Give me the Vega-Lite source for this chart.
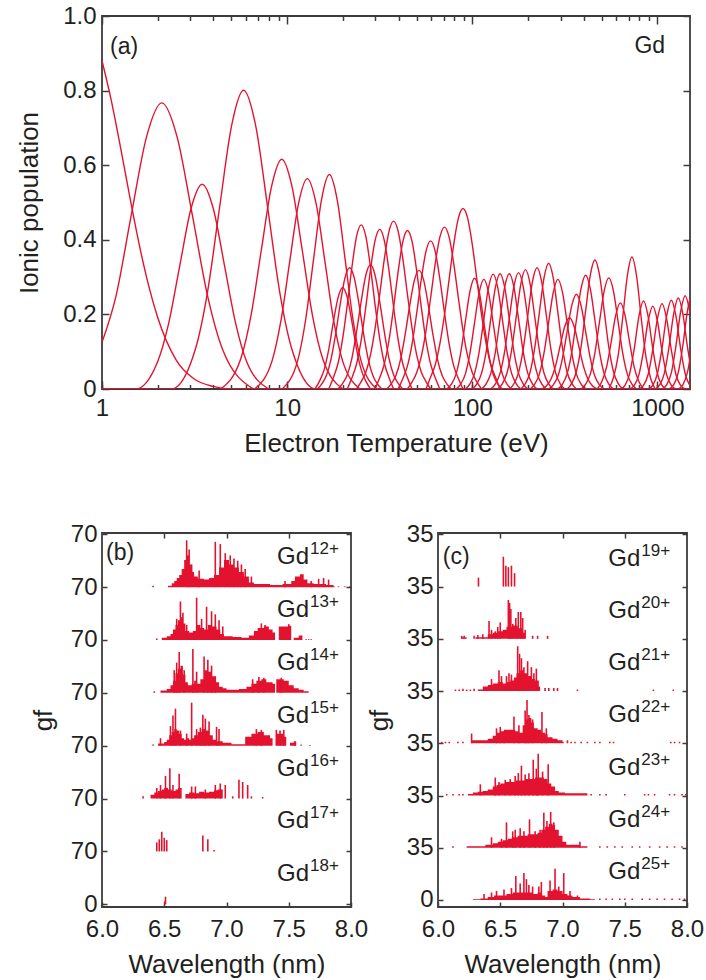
{
"$schema": "https://vega.github.io/schema/vega-lite/v6.json",
"background": "white",
"padding": {"left": 15, "top": 3, "right": 5, "bottom": 5},
"config": {
 "font": "Liberation Sans",
 "view": {"stroke": "#3c3c3c", "strokeWidth": 1.8},
 "axis": {"domain": false, "grid": false, "labelFont": "Liberation Sans", "titleFont": "Liberation Sans", "labelFontSize": 24, "titleFontSize": 26, "titleFontWeight": "normal", "labelColor": "#231f20", "titleColor": "#231f20", "tickColor": "#3c3c3c", "tickWidth": 1.5, "labelFlush": false, "labelOverlap": false}
},
"datasets": {
 "curves": [
  {"i":1,"t":1,"p":0.88},{"i":1,"t":1.122,"p":0.774},{"i":1,"t":1.259,"p":0.648},{"i":1,"t":1.413,"p":0.515},{"i":1,"t":1.585,"p":0.39},{"i":1,"t":1.778,"p":0.281},{"i":1,"t":1.995,"p":0.193},{"i":1,"t":2.512,"p":0.078},{"i":1,"t":3.162,"p":0.026},{"i":1,"t":3.981,"p":0.007},{"i":1,"t":5.012,"p":0},{"i":1,"t":1500,"p":0},
  {"i":2,"t":1,"p":0.125},{"i":2,"t":1.19,"p":0.249},{"i":2,"t":1.439,"p":0.466},{"i":2,"t":1.74,"p":0.676},{"i":2,"t":2.104,"p":0.767},{"i":2,"t":2.544,"p":0.676},{"i":2,"t":3.076,"p":0.466},{"i":2,"t":3.72,"p":0.249},{"i":2,"t":4.498,"p":0.104},{"i":2,"t":6.577,"p":0},
  {"i":3,"t":1,"p":0},{"i":3,"t":1.517,"p":0},{"i":3,"t":2.0,"p":0.074},{"i":3,"t":2.296,"p":0.178},{"i":3,"t":2.636,"p":0.333},{"i":3,"t":3.027,"p":0.484},{"i":3,"t":3.475,"p":0.549},{"i":3,"t":3.99,"p":0.484},{"i":3,"t":4.581,"p":0.333},{"i":3,"t":5.26,"p":0.178},{"i":3,"t":6.04,"p":0.074},{"i":3,"t":7.96,"p":0},
  {"i":4,"t":1,"p":0},{"i":4,"t":2.371,"p":0},{"i":4,"t":3.199,"p":0.108},{"i":4,"t":3.715,"p":0.26},{"i":4,"t":4.315,"p":0.486},{"i":4,"t":5.012,"p":0.706},{"i":4,"t":5.821,"p":0.801},{"i":4,"t":6.761,"p":0.706},{"i":4,"t":7.852,"p":0.486},{"i":4,"t":9.12,"p":0.26},{"i":4,"t":10.59,"p":0.108},{"i":4,"t":14.29,"p":0},{"i":4,"t":1500,"p":0},
  {"i":5,"t":4.375,"p":0},{"i":5,"t":5.636,"p":0.083},{"i":5,"t":6.398,"p":0.2},{"i":5,"t":7.261,"p":0.374},{"i":5,"t":8.241,"p":0.543},{"i":5,"t":9.354,"p":0.616},{"i":5,"t":10.62,"p":0.543},{"i":5,"t":12.05,"p":0.374},{"i":5,"t":13.67,"p":0.2},{"i":5,"t":15.52,"p":0.083},{"i":5,"t":20.0,"p":0},
  {"i":6,"t":6.668,"p":0},{"i":6,"t":8.299,"p":0.076},{"i":6,"t":9.258,"p":0.183},{"i":6,"t":10.33,"p":0.342},{"i":6,"t":11.52,"p":0.497},{"i":6,"t":12.85,"p":0.564},{"i":6,"t":14.34,"p":0.497},{"i":6,"t":16.0,"p":0.342},{"i":6,"t":17.84,"p":0.183},{"i":6,"t":19.91,"p":0.076},{"i":6,"t":24.77,"p":0},
  {"i":7,"t":9.397,"p":0},{"i":7,"t":11.43,"p":0.078},{"i":7,"t":12.6,"p":0.187},{"i":7,"t":13.9,"p":0.349},{"i":7,"t":15.33,"p":0.507},{"i":7,"t":16.91,"p":0.575},{"i":7,"t":18.64,"p":0.507},{"i":7,"t":20.56,"p":0.349},{"i":7,"t":22.67,"p":0.187},{"i":7,"t":25.0,"p":0.078},{"i":7,"t":30.41,"p":0},
  {"i":8,"t":14.13,"p":0},{"i":8,"t":14.96,"p":0.021},{"i":8,"t":15.85,"p":0.052},{"i":8,"t":16.79,"p":0.107},{"i":8,"t":17.78,"p":0.18},{"i":8,"t":18.84,"p":0.245},{"i":8,"t":19.95,"p":0.272},{"i":8,"t":21.13,"p":0.245},{"i":8,"t":22.39,"p":0.18},{"i":8,"t":23.71,"p":0.107},{"i":8,"t":25.12,"p":0.052},{"i":8,"t":26.61,"p":0.021},{"i":8,"t":28.18,"p":0},
  {"i":9,"t":14.54,"p":0},{"i":9,"t":15.4,"p":0.014},{"i":9,"t":16.31,"p":0.037},{"i":9,"t":17.28,"p":0.081},{"i":9,"t":18.3,"p":0.149},{"i":9,"t":19.39,"p":0.23},{"i":9,"t":20.53,"p":0.298},{"i":9,"t":21.75,"p":0.325},{"i":9,"t":23.04,"p":0.298},{"i":9,"t":24.4,"p":0.23},{"i":9,"t":25.85,"p":0.149},{"i":9,"t":27.39,"p":0.081},{"i":9,"t":29.0,"p":0.037},{"i":9,"t":30.72,"p":0.014},{"i":9,"t":32.54,"p":0},
  {"i":10,"t":16.79,"p":0},{"i":10,"t":17.78,"p":0.031},{"i":10,"t":18.84,"p":0.069},{"i":10,"t":19.95,"p":0.135},{"i":10,"t":21.13,"p":0.226},{"i":10,"t":22.39,"p":0.327},{"i":10,"t":23.71,"p":0.409},{"i":10,"t":25.12,"p":0.44},{"i":10,"t":26.61,"p":0.409},{"i":10,"t":28.18,"p":0.327},{"i":10,"t":29.85,"p":0.226},{"i":10,"t":31.62,"p":0.135},{"i":10,"t":33.5,"p":0.069},{"i":10,"t":35.48,"p":0.031},{"i":10,"t":37.58,"p":0},
  {"i":11,"t":18.84,"p":0},{"i":11,"t":19.95,"p":0.015},{"i":11,"t":21.13,"p":0.038},{"i":11,"t":22.39,"p":0.083},{"i":11,"t":23.71,"p":0.153},{"i":11,"t":25.12,"p":0.235},{"i":11,"t":26.61,"p":0.305},{"i":11,"t":28.18,"p":0.333},{"i":11,"t":29.85,"p":0.305},{"i":11,"t":31.62,"p":0.235},{"i":11,"t":33.5,"p":0.153},{"i":11,"t":35.48,"p":0.083},{"i":11,"t":37.58,"p":0.038},{"i":11,"t":39.81,"p":0.015},{"i":11,"t":42.17,"p":0},
  {"i":12,"t":21.13,"p":0},{"i":12,"t":22.39,"p":0.03},{"i":12,"t":23.71,"p":0.067},{"i":12,"t":25.12,"p":0.131},{"i":12,"t":26.61,"p":0.22},{"i":12,"t":28.18,"p":0.318},{"i":12,"t":29.85,"p":0.398},{"i":12,"t":31.62,"p":0.428},{"i":12,"t":33.5,"p":0.398},{"i":12,"t":35.48,"p":0.318},{"i":12,"t":37.58,"p":0.22},{"i":12,"t":39.81,"p":0.131},{"i":12,"t":42.17,"p":0.067},{"i":12,"t":44.67,"p":0.03},{"i":12,"t":47.32,"p":0},
  {"i":13,"t":23.71,"p":0},{"i":13,"t":25.12,"p":0.02},{"i":13,"t":26.61,"p":0.045},{"i":13,"t":28.18,"p":0.091},{"i":13,"t":29.85,"p":0.162},{"i":13,"t":31.62,"p":0.253},{"i":13,"t":33.5,"p":0.349},{"i":13,"t":35.48,"p":0.422},{"i":13,"t":37.58,"p":0.45},{"i":13,"t":39.81,"p":0.422},{"i":13,"t":42.17,"p":0.349},{"i":13,"t":44.67,"p":0.253},{"i":13,"t":47.32,"p":0.162},{"i":13,"t":50.12,"p":0.091},{"i":13,"t":53.09,"p":0.045},{"i":13,"t":56.23,"p":0.02},{"i":13,"t":59.57,"p":0},
  {"i":14,"t":29.85,"p":0},{"i":14,"t":31.62,"p":0.03},{"i":14,"t":33.5,"p":0.067},{"i":14,"t":35.48,"p":0.13},{"i":14,"t":37.58,"p":0.218},{"i":14,"t":39.81,"p":0.316},{"i":14,"t":42.17,"p":0.395},{"i":14,"t":44.67,"p":0.425},{"i":14,"t":47.32,"p":0.395},{"i":14,"t":50.12,"p":0.316},{"i":14,"t":53.09,"p":0.218},{"i":14,"t":56.23,"p":0.13},{"i":14,"t":59.57,"p":0.067},{"i":14,"t":63.1,"p":0.03},{"i":14,"t":66.83,"p":0},
  {"i":15,"t":34.48,"p":0},{"i":15,"t":36.52,"p":0.014},{"i":15,"t":38.68,"p":0.036},{"i":15,"t":40.97,"p":0.079},{"i":15,"t":43.4,"p":0.146},{"i":15,"t":45.97,"p":0.225},{"i":15,"t":48.7,"p":0.292},{"i":15,"t":51.58,"p":0.318},{"i":15,"t":54.64,"p":0.292},{"i":15,"t":57.87,"p":0.225},{"i":15,"t":61.31,"p":0.146},{"i":15,"t":64.94,"p":0.079},{"i":15,"t":68.78,"p":0.036},{"i":15,"t":72.86,"p":0.014},{"i":15,"t":77.18,"p":0},
  {"i":16,"t":39.81,"p":0},{"i":16,"t":42.17,"p":0.028},{"i":16,"t":44.67,"p":0.062},{"i":16,"t":47.32,"p":0.121},{"i":16,"t":50.12,"p":0.204},{"i":16,"t":53.09,"p":0.295},{"i":16,"t":56.23,"p":0.369},{"i":16,"t":59.57,"p":0.397},{"i":16,"t":63.1,"p":0.369},{"i":16,"t":66.83,"p":0.295},{"i":16,"t":70.79,"p":0.204},{"i":16,"t":74.99,"p":0.121},{"i":16,"t":79.43,"p":0.062},{"i":16,"t":84.14,"p":0.028},{"i":16,"t":89.13,"p":0},
  {"i":17,"t":44.67,"p":0},{"i":17,"t":47.32,"p":0.019},{"i":17,"t":50.12,"p":0.044},{"i":17,"t":53.09,"p":0.088},{"i":17,"t":56.23,"p":0.156},{"i":17,"t":59.57,"p":0.244},{"i":17,"t":63.1,"p":0.336},{"i":17,"t":66.83,"p":0.407},{"i":17,"t":70.79,"p":0.434},{"i":17,"t":74.99,"p":0.407},{"i":17,"t":79.43,"p":0.336},{"i":17,"t":84.14,"p":0.244},{"i":17,"t":89.13,"p":0.156},{"i":17,"t":94.41,"p":0.088},{"i":17,"t":100,"p":0.044},{"i":17,"t":105.9,"p":0.019},{"i":17,"t":112.2,"p":0},
  {"i":18,"t":56.23,"p":0},{"i":18,"t":59.57,"p":0.032},{"i":18,"t":63.1,"p":0.065},{"i":18,"t":66.83,"p":0.121},{"i":18,"t":70.79,"p":0.199},{"i":18,"t":74.99,"p":0.294},{"i":18,"t":79.43,"p":0.388},{"i":18,"t":84.14,"p":0.458},{"i":18,"t":89.13,"p":0.484},{"i":18,"t":94.41,"p":0.458},{"i":18,"t":100,"p":0.388},{"i":18,"t":105.9,"p":0.294},{"i":18,"t":112.2,"p":0.199},{"i":18,"t":118.9,"p":0.121},{"i":18,"t":125.9,"p":0.065},{"i":18,"t":133.4,"p":0.032},{"i":18,"t":141.3,"p":0},
  {"i":19,"t":72.86,"p":0},{"i":19,"t":77.18,"p":0.013},{"i":19,"t":81.75,"p":0.04},{"i":19,"t":86.6,"p":0.097},{"i":19,"t":91.73,"p":0.18},{"i":19,"t":97.17,"p":0.262},{"i":19,"t":102.9,"p":0.297},{"i":19,"t":109.0,"p":0.262},{"i":19,"t":115.5,"p":0.18},{"i":19,"t":122.4,"p":0.097},{"i":19,"t":129.6,"p":0.04},{"i":19,"t":137.3,"p":0.013},{"i":19,"t":145.4,"p":0},
  {"i":20,"t":81.75,"p":0},{"i":20,"t":86.6,"p":0.013},{"i":20,"t":91.73,"p":0.04},{"i":20,"t":97.17,"p":0.096},{"i":20,"t":102.9,"p":0.178},{"i":20,"t":109.0,"p":0.259},{"i":20,"t":115.5,"p":0.294},{"i":20,"t":122.4,"p":0.259},{"i":20,"t":129.6,"p":0.178},{"i":20,"t":137.3,"p":0.096},{"i":20,"t":145.4,"p":0.04},{"i":20,"t":154.0,"p":0.013},{"i":20,"t":163.1,"p":0},
  {"i":21,"t":91.73,"p":0},{"i":21,"t":97.17,"p":0.014},{"i":21,"t":102.9,"p":0.042},{"i":21,"t":109.0,"p":0.1},{"i":21,"t":115.5,"p":0.187},{"i":21,"t":122.4,"p":0.272},{"i":21,"t":129.6,"p":0.308},{"i":21,"t":137.3,"p":0.272},{"i":21,"t":145.4,"p":0.187},{"i":21,"t":154.0,"p":0.1},{"i":21,"t":163.1,"p":0.042},{"i":21,"t":172.8,"p":0.014},{"i":21,"t":183.0,"p":0},
  {"i":22,"t":100,"p":0},{"i":22,"t":105.9,"p":0.014},{"i":22,"t":112.2,"p":0.042},{"i":22,"t":118.9,"p":0.1},{"i":22,"t":125.9,"p":0.188},{"i":22,"t":133.4,"p":0.273},{"i":22,"t":141.3,"p":0.309},{"i":22,"t":149.6,"p":0.273},{"i":22,"t":158.5,"p":0.188},{"i":22,"t":167.9,"p":0.1},{"i":22,"t":177.8,"p":0.042},{"i":22,"t":188.4,"p":0.014},{"i":22,"t":199.5,"p":0},
  {"i":23,"t":112.2,"p":0},{"i":23,"t":118.9,"p":0.014},{"i":23,"t":125.9,"p":0.042},{"i":23,"t":133.4,"p":0.1},{"i":23,"t":141.3,"p":0.188},{"i":23,"t":149.6,"p":0.273},{"i":23,"t":158.5,"p":0.309},{"i":23,"t":167.9,"p":0.273},{"i":23,"t":177.8,"p":0.188},{"i":23,"t":188.4,"p":0.1},{"i":23,"t":199.5,"p":0.042},{"i":23,"t":211.3,"p":0.014},{"i":23,"t":223.9,"p":0},
  {"i":24,"t":125.9,"p":0},{"i":24,"t":133.4,"p":0.014},{"i":24,"t":141.3,"p":0.042},{"i":24,"t":149.6,"p":0.101},{"i":24,"t":158.5,"p":0.189},{"i":24,"t":167.9,"p":0.275},{"i":24,"t":177.8,"p":0.312},{"i":24,"t":188.4,"p":0.275},{"i":24,"t":199.5,"p":0.189},{"i":24,"t":211.3,"p":0.101},{"i":24,"t":223.9,"p":0.042},{"i":24,"t":237.1,"p":0.014},{"i":24,"t":251.2,"p":0},
  {"i":25,"t":137.3,"p":0},{"i":25,"t":145.4,"p":0.014},{"i":25,"t":154.0,"p":0.043},{"i":25,"t":163.1,"p":0.104},{"i":25,"t":172.8,"p":0.194},{"i":25,"t":183.0,"p":0.282},{"i":25,"t":193.9,"p":0.32},{"i":25,"t":205.3,"p":0.282},{"i":25,"t":217.5,"p":0.194},{"i":25,"t":230.4,"p":0.104},{"i":25,"t":244.0,"p":0.043},{"i":25,"t":258.5,"p":0.014},{"i":25,"t":273.9,"p":0},
  {"i":26,"t":158.5,"p":0},{"i":26,"t":167.9,"p":0.014},{"i":26,"t":177.8,"p":0.044},{"i":26,"t":188.4,"p":0.106},{"i":26,"t":199.5,"p":0.197},{"i":26,"t":211.3,"p":0.287},{"i":26,"t":223.9,"p":0.325},{"i":26,"t":237.1,"p":0.287},{"i":26,"t":251.2,"p":0.197},{"i":26,"t":266.1,"p":0.106},{"i":26,"t":281.8,"p":0.044},{"i":26,"t":298.5,"p":0.014},{"i":26,"t":316.2,"p":0},
  {"i":27,"t":183.0,"p":0},{"i":27,"t":193.9,"p":0.015},{"i":27,"t":205.3,"p":0.045},{"i":27,"t":217.5,"p":0.11},{"i":27,"t":230.4,"p":0.205},{"i":27,"t":244.0,"p":0.297},{"i":27,"t":258.5,"p":0.337},{"i":27,"t":273.9,"p":0.297},{"i":27,"t":290.0,"p":0.205},{"i":27,"t":307.2,"p":0.11},{"i":27,"t":325.4,"p":0.045},{"i":27,"t":344.8,"p":0.015},{"i":27,"t":365.2,"p":0},
  {"i":28,"t":205.3,"p":0},{"i":28,"t":217.5,"p":0.013},{"i":28,"t":230.4,"p":0.04},{"i":28,"t":244.0,"p":0.096},{"i":28,"t":258.5,"p":0.178},{"i":28,"t":273.9,"p":0.259},{"i":28,"t":290.0,"p":0.294},{"i":28,"t":307.2,"p":0.259},{"i":28,"t":325.4,"p":0.178},{"i":28,"t":344.8,"p":0.096},{"i":28,"t":365.2,"p":0.04},{"i":28,"t":386.8,"p":0.013},{"i":28,"t":409.7,"p":0},
  {"i":29,"t":237.1,"p":0},{"i":29,"t":251.2,"p":0.008},{"i":29,"t":266.1,"p":0.026},{"i":29,"t":281.8,"p":0.062},{"i":29,"t":298.5,"p":0.116},{"i":29,"t":316.2,"p":0.168},{"i":29,"t":335.0,"p":0.191},{"i":29,"t":354.8,"p":0.168},{"i":29,"t":375.8,"p":0.116},{"i":29,"t":398.1,"p":0.062},{"i":29,"t":421.7,"p":0.026},{"i":29,"t":446.7,"p":0.008},{"i":29,"t":473.2,"p":0},
  {"i":30,"t":258.5,"p":0},{"i":30,"t":273.9,"p":0.011},{"i":30,"t":290.0,"p":0.034},{"i":30,"t":307.2,"p":0.083},{"i":30,"t":325.4,"p":0.154},{"i":30,"t":344.8,"p":0.224},{"i":30,"t":365.2,"p":0.254},{"i":30,"t":386.8,"p":0.224},{"i":30,"t":409.7,"p":0.154},{"i":30,"t":434.0,"p":0.083},{"i":30,"t":459.7,"p":0.034},{"i":30,"t":487.0,"p":0.011},{"i":30,"t":515.8,"p":0},
  {"i":31,"t":290.0,"p":0},{"i":31,"t":307.2,"p":0.013},{"i":31,"t":325.4,"p":0.041},{"i":31,"t":344.8,"p":0.099},{"i":31,"t":365.2,"p":0.185},{"i":31,"t":386.8,"p":0.269},{"i":31,"t":409.7,"p":0.305},{"i":31,"t":434.0,"p":0.269},{"i":31,"t":459.7,"p":0.185},{"i":31,"t":487.0,"p":0.099},{"i":31,"t":515.8,"p":0.041},{"i":31,"t":546.4,"p":0.013},{"i":31,"t":578.7,"p":0},
  {"i":32,"t":325.4,"p":0},{"i":32,"t":344.8,"p":0.015},{"i":32,"t":365.2,"p":0.047},{"i":32,"t":386.8,"p":0.112},{"i":32,"t":409.7,"p":0.21},{"i":32,"t":434.0,"p":0.305},{"i":32,"t":459.7,"p":0.346},{"i":32,"t":487.0,"p":0.305},{"i":32,"t":515.8,"p":0.21},{"i":32,"t":546.4,"p":0.112},{"i":32,"t":578.7,"p":0.047},{"i":32,"t":613.1,"p":0.015},{"i":32,"t":649.4,"p":0},
  {"i":33,"t":386.8,"p":0},{"i":33,"t":409.7,"p":0.013},{"i":33,"t":434.0,"p":0.04},{"i":33,"t":459.7,"p":0.097},{"i":33,"t":487.0,"p":0.181},{"i":33,"t":515.8,"p":0.263},{"i":33,"t":546.4,"p":0.298},{"i":33,"t":578.7,"p":0.263},{"i":33,"t":613.1,"p":0.181},{"i":33,"t":649.4,"p":0.097},{"i":33,"t":687.8,"p":0.04},{"i":33,"t":728.6,"p":0.013},{"i":33,"t":771.8,"p":0},
  {"i":34,"t":473.2,"p":0},{"i":34,"t":501.2,"p":0.02},{"i":34,"t":530.9,"p":0.058},{"i":34,"t":562.3,"p":0.125},{"i":34,"t":595.7,"p":0.198},{"i":34,"t":631.0,"p":0.231},{"i":34,"t":668.3,"p":0.198},{"i":34,"t":707.9,"p":0.125},{"i":34,"t":749.9,"p":0.058},{"i":34,"t":794.3,"p":0.02},{"i":34,"t":841.4,"p":0},
  {"i":35,"t":546.4,"p":0},{"i":35,"t":578.7,"p":0.03},{"i":35,"t":613.1,"p":0.088},{"i":35,"t":649.4,"p":0.191},{"i":35,"t":687.8,"p":0.303},{"i":35,"t":728.6,"p":0.354},{"i":35,"t":771.8,"p":0.303},{"i":35,"t":817.5,"p":0.191},{"i":35,"t":866.0,"p":0.088},{"i":35,"t":917.3,"p":0.03},{"i":35,"t":971.7,"p":0},
  {"i":36,"t":631.0,"p":0},{"i":36,"t":668.3,"p":0.01},{"i":36,"t":707.9,"p":0.041},{"i":36,"t":749.9,"p":0.108},{"i":36,"t":794.3,"p":0.194},{"i":36,"t":841.4,"p":0.236},{"i":36,"t":891.3,"p":0.194},{"i":36,"t":944.1,"p":0.108},{"i":36,"t":1000,"p":0.041},{"i":36,"t":1059,"p":0.01},{"i":36,"t":1122,"p":0},
  {"i":37,"t":707.9,"p":0},{"i":37,"t":749.9,"p":0.01},{"i":37,"t":794.3,"p":0.038},{"i":37,"t":841.4,"p":0.102},{"i":37,"t":891.3,"p":0.183},{"i":37,"t":944.1,"p":0.222},{"i":37,"t":1000,"p":0.183},{"i":37,"t":1059,"p":0.102},{"i":37,"t":1122,"p":0.038},{"i":37,"t":1189,"p":0.01},{"i":37,"t":1259,"p":0},
  {"i":38,"t":794.3,"p":0},{"i":38,"t":841.4,"p":0.01},{"i":38,"t":891.3,"p":0.039},{"i":38,"t":944.1,"p":0.105},{"i":38,"t":1000,"p":0.188},{"i":38,"t":1059,"p":0.229},{"i":38,"t":1122,"p":0.188},{"i":38,"t":1189,"p":0.105},{"i":38,"t":1259,"p":0.039},{"i":38,"t":1334,"p":0.01},{"i":38,"t":1413,"p":0},
  {"i":39,"t":891.3,"p":0},{"i":39,"t":944.1,"p":0.01},{"i":39,"t":1000,"p":0.041},{"i":39,"t":1059,"p":0.109},{"i":39,"t":1122,"p":0.196},{"i":39,"t":1189,"p":0.238},{"i":39,"t":1259,"p":0.196},{"i":39,"t":1334,"p":0.109},{"i":39,"t":1413,"p":0.041},{"i":39,"t":1496,"p":0.01},{"i":39,"t":1585,"p":0},
  {"i":40,"t":971.7,"p":0},{"i":40,"t":1029,"p":0.011},{"i":40,"t":1090,"p":0.042},{"i":40,"t":1155,"p":0.112},{"i":40,"t":1224,"p":0.201},{"i":40,"t":1296,"p":0.244},{"i":40,"t":1373,"p":0.201},{"i":40,"t":1454,"p":0.112},{"i":40,"t":1540,"p":0.042},{"i":40,"t":1631,"p":0.011},{"i":40,"t":1728,"p":0},
  {"i":41,"t":1059,"p":0},{"i":41,"t":1122,"p":0.011},{"i":41,"t":1189,"p":0.043},{"i":41,"t":1259,"p":0.115},{"i":41,"t":1334,"p":0.206},{"i":41,"t":1413,"p":0.25},{"i":41,"t":1496,"p":0.206},{"i":41,"t":1585,"p":0.115},{"i":41,"t":1679,"p":0.043},{"i":41,"t":1778,"p":0.011},{"i":41,"t":1884,"p":0},
  {"i":42,"t":1155,"p":0},{"i":42,"t":1224,"p":0.011},{"i":42,"t":1296,"p":0.044},{"i":42,"t":1373,"p":0.117},{"i":42,"t":1454,"p":0.21},{"i":42,"t":1540,"p":0.255},{"i":42,"t":1631,"p":0.21},{"i":42,"t":1728,"p":0.117},
  {"i":43,"t":1296,"p":0},{"i":43,"t":1373,"p":0.011},{"i":43,"t":1454,"p":0.045},{"i":43,"t":1540,"p":0.119},{"i":43,"t":1631,"p":0.214},{"i":43,"t":1728,"p":0.26},{"i":43,"t":1830,"p":0.214}
 ],
 "envB": [
  {"g":"12","w":6.53,"y":422,"b":420},{"g":"12","w":6.56,"y":425,"b":420},{"g":"12","w":6.58,"y":428,"b":420},{"g":"12","w":6.6,"y":432,"b":420},{"g":"12","w":6.62,"y":436,"b":420},{"g":"12","w":6.64,"y":444,"b":420},{"g":"12","w":6.66,"y":456,"b":420},{"g":"12","w":6.68,"y":462,"b":420},{"g":"12","w":6.7,"y":450,"b":420},{"g":"12","w":6.72,"y":440,"b":420},{"g":"12","w":6.74,"y":434,"b":420},{"g":"12","w":6.77,"y":431,"b":420},{"g":"12","w":6.82,"y":430,"b":420},{"g":"12","w":6.86,"y":432,"b":420},{"g":"12","w":6.9,"y":436,"b":420},{"g":"12","w":6.94,"y":446,"b":420},{"g":"12","w":6.98,"y":456,"b":420},{"g":"12","w":7.02,"y":450,"b":420},{"g":"12","w":7.06,"y":446,"b":420},{"g":"12","w":7.1,"y":440,"b":420},{"g":"12","w":7.14,"y":434,"b":420},{"g":"12","w":7.18,"y":426,"b":420},{"g":"12","w":7.22,"y":424,"b":420},{"g":"12","w":7.35,"y":423,"b":420},{"g":"12","w":7.45,"y":424,"b":420},{"g":"12","w":7.52,"y":428,"b":420},{"g":"12","w":7.55,"y":434,"b":420},{"g":"12","w":7.59,"y":437,"b":420},{"g":"12","w":7.62,"y":430,"b":420},{"g":"12","w":7.65,"y":425,"b":420},{"g":"12","w":7.7,"y":424,"b":420},{"g":"12","w":7.8,"y":423,"b":420},{"g":"12","w":7.86,"y":421,"b":420},{"g":"12","w":7.87,"y":420,"b":420},
  {"g":"13","w":6.48,"y":353,"b":350},{"g":"13","w":6.52,"y":355,"b":350},{"g":"13","w":6.55,"y":358,"b":350},{"g":"13","w":6.57,"y":364,"b":350},{"g":"13","w":6.59,"y":370,"b":350},{"g":"13","w":6.61,"y":376,"b":350},{"g":"13","w":6.63,"y":380,"b":350},{"g":"13","w":6.65,"y":372,"b":350},{"g":"13","w":6.67,"y":362,"b":350},{"g":"13","w":6.7,"y":360,"b":350},{"g":"13","w":6.73,"y":362,"b":350},{"g":"13","w":6.76,"y":370,"b":350},{"g":"13","w":6.79,"y":366,"b":350},{"g":"13","w":6.82,"y":364,"b":350},{"g":"13","w":6.85,"y":370,"b":350},{"g":"13","w":6.88,"y":368,"b":350},{"g":"13","w":6.92,"y":364,"b":350},{"g":"13","w":6.95,"y":358,"b":350},{"g":"13","w":6.98,"y":355,"b":350},{"g":"13","w":7.05,"y":354,"b":350},{"g":"13","w":7.12,"y":353,"b":350},{"g":"13","w":7.18,"y":356,"b":350},{"g":"13","w":7.22,"y":362,"b":350},{"g":"13","w":7.25,"y":366,"b":350},{"g":"13","w":7.3,"y":368,"b":350},{"g":"13","w":7.34,"y":364,"b":350},{"g":"13","w":7.37,"y":360,"b":350},{"g":"13","w":7.39,"y":350,"b":350},{"g":"13","w":7.42,"y":368,"b":350},{"g":"13","w":7.5,"y":369,"b":350},{"g":"13","w":7.52,"y":350,"b":350},{"g":"13","w":7.54,"y":353,"b":350},{"g":"13","w":7.58,"y":356,"b":350},{"g":"13","w":7.61,"y":350,"b":350},
  {"g":"14","w":6.47,"y":283,"b":280},{"g":"14","w":6.52,"y":285,"b":280},{"g":"14","w":6.55,"y":290,"b":280},{"g":"14","w":6.57,"y":296,"b":280},{"g":"14","w":6.59,"y":306,"b":280},{"g":"14","w":6.61,"y":312,"b":280},{"g":"14","w":6.63,"y":316,"b":280},{"g":"14","w":6.65,"y":304,"b":280},{"g":"14","w":6.67,"y":294,"b":280},{"g":"14","w":6.69,"y":290,"b":280},{"g":"14","w":6.72,"y":292,"b":280},{"g":"14","w":6.74,"y":296,"b":280},{"g":"14","w":6.76,"y":292,"b":280},{"g":"14","w":6.79,"y":298,"b":280},{"g":"14","w":6.82,"y":310,"b":280},{"g":"14","w":6.85,"y":308,"b":280},{"g":"14","w":6.88,"y":302,"b":280},{"g":"14","w":6.91,"y":294,"b":280},{"g":"14","w":6.94,"y":288,"b":280},{"g":"14","w":6.97,"y":286,"b":280},{"g":"14","w":7.0,"y":284,"b":280},{"g":"14","w":7.1,"y":285,"b":280},{"g":"14","w":7.16,"y":288,"b":280},{"g":"14","w":7.2,"y":292,"b":280},{"g":"14","w":7.24,"y":296,"b":280},{"g":"14","w":7.28,"y":298,"b":280},{"g":"14","w":7.32,"y":294,"b":280},{"g":"14","w":7.37,"y":292,"b":280},{"g":"14","w":7.39,"y":280,"b":280},{"g":"14","w":7.4,"y":298,"b":280},{"g":"14","w":7.46,"y":296,"b":280},{"g":"14","w":7.5,"y":290,"b":280},{"g":"14","w":7.54,"y":286,"b":280},{"g":"14","w":7.58,"y":284,"b":280},{"g":"14","w":7.62,"y":282,"b":280},{"g":"14","w":7.66,"y":280,"b":280},
  {"g":"15","w":6.45,"y":213,"b":210},{"g":"15","w":6.5,"y":215,"b":210},{"g":"15","w":6.52,"y":218,"b":210},{"g":"15","w":6.54,"y":224,"b":210},{"g":"15","w":6.56,"y":228,"b":210},{"g":"15","w":6.58,"y":232,"b":210},{"g":"15","w":6.6,"y":230,"b":210},{"g":"15","w":6.62,"y":226,"b":210},{"g":"15","w":6.64,"y":220,"b":210},{"g":"15","w":6.66,"y":218,"b":210},{"g":"15","w":6.68,"y":220,"b":210},{"g":"15","w":6.7,"y":218,"b":210},{"g":"15","w":6.72,"y":220,"b":210},{"g":"15","w":6.74,"y":224,"b":210},{"g":"15","w":6.77,"y":228,"b":210},{"g":"15","w":6.8,"y":232,"b":210},{"g":"15","w":6.83,"y":230,"b":210},{"g":"15","w":6.86,"y":224,"b":210},{"g":"15","w":6.89,"y":218,"b":210},{"g":"15","w":6.92,"y":216,"b":210},{"g":"15","w":6.97,"y":214,"b":210},{"g":"15","w":7.04,"y":212,"b":210},{"g":"15","w":7.1,"y":212,"b":210},{"g":"15","w":7.15,"y":222,"b":210},{"g":"15","w":7.2,"y":226,"b":210},{"g":"15","w":7.25,"y":228,"b":210},{"g":"15","w":7.3,"y":224,"b":210},{"g":"15","w":7.35,"y":220,"b":210},{"g":"15","w":7.37,"y":210,"b":210},{"g":"15","w":7.4,"y":226,"b":210},{"g":"15","w":7.46,"y":222,"b":210},{"g":"15","w":7.48,"y":210,"b":210},{"g":"15","w":7.51,"y":214,"b":210},{"g":"15","w":7.54,"y":216,"b":210},{"g":"15","w":7.56,"y":210,"b":210},
  {"g":"16","w":6.39,"y":145,"b":140},{"g":"16","w":6.42,"y":148,"b":140},{"g":"16","w":6.45,"y":150,"b":140},{"g":"16","w":6.48,"y":152,"b":140},{"g":"16","w":6.5,"y":154,"b":140},{"g":"16","w":6.53,"y":152,"b":140},{"g":"16","w":6.56,"y":150,"b":140},{"g":"16","w":6.59,"y":152,"b":140},{"g":"16","w":6.61,"y":154,"b":140},{"g":"16","w":6.64,"y":140,"b":140},{"g":"16","w":6.67,"y":146,"b":140},{"g":"16","w":6.7,"y":148,"b":140},{"g":"16","w":6.74,"y":147,"b":140},{"g":"16","w":6.78,"y":149,"b":140},{"g":"16","w":6.82,"y":148,"b":140},{"g":"16","w":6.86,"y":149,"b":140},{"g":"16","w":6.9,"y":151,"b":140},{"g":"16","w":6.93,"y":152,"b":140},{"g":"16","w":6.97,"y":140,"b":140}
 ],
 "spkB": [
  {"w":6.41,"y":422,"b":420},{"w":6.68,"y":482,"b":420},{"w":6.7,"y":470,"b":420},{"w":6.72,"y":450,"b":420},{"w":6.78,"y":442,"b":420},{"w":6.91,"y":480,"b":420},{"w":6.95,"y":477,"b":420},{"w":6.99,"y":465,"b":420},{"w":7.03,"y":462,"b":420},{"w":7.06,"y":458,"b":420},{"w":7.09,"y":455,"b":420},{"w":7.12,"y":450,"b":420},{"w":7.15,"y":444,"b":420},{"w":7.2,"y":434,"b":420},{"w":7.47,"y":428,"b":420},{"w":7.68,"y":428,"b":420},{"w":7.74,"y":431,"b":420},{"w":7.78,"y":432,"b":420},{"w":7.82,"y":430,"b":420},{"w":7.9,"y":421,"b":420},{"w":7.95,"y":421,"b":420},{"w":7.99,"y":421,"b":420},
  {"w":6.44,"y":352,"b":350},{"w":6.6,"y":378,"b":350},{"w":6.63,"y":401,"b":350},{"w":6.65,"y":386,"b":350},{"w":6.68,"y":370,"b":350},{"w":6.76,"y":406,"b":350},{"w":6.8,"y":378,"b":350},{"w":6.84,"y":394,"b":350},{"w":6.88,"y":388,"b":350},{"w":6.91,"y":384,"b":350},{"w":6.94,"y":376,"b":350},{"w":6.97,"y":368,"b":350},{"w":7.28,"y":372,"b":350},{"w":7.31,"y":370,"b":350},{"w":7.5,"y":371,"b":350},{"w":7.64,"y":351,"b":350},{"w":7.66,"y":351,"b":350},{"w":7.68,"y":351,"b":350},
  {"w":6.42,"y":282,"b":280},{"w":6.58,"y":310,"b":280},{"w":6.6,"y":320,"b":280},{"w":6.62,"y":334,"b":280},{"w":6.66,"y":310,"b":280},{"w":6.73,"y":338,"b":280},{"w":6.76,"y":308,"b":280},{"w":6.82,"y":328,"b":280},{"w":6.85,"y":324,"b":280},{"w":6.88,"y":316,"b":280},{"w":6.91,"y":302,"b":280},{"w":7.21,"y":298,"b":280},{"w":7.26,"y":301,"b":280},{"w":7.3,"y":300,"b":280},{"w":7.44,"y":300,"b":280},
  {"w":6.41,"y":211.5,"b":210},{"w":6.47,"y":220,"b":210},{"w":6.55,"y":236,"b":210},{"w":6.57,"y":250,"b":210},{"w":6.59,"y":259,"b":210},{"w":6.63,"y":230,"b":210},{"w":6.68,"y":226,"b":210},{"w":6.72,"y":267,"b":210},{"w":6.76,"y":232,"b":210},{"w":6.79,"y":234,"b":210},{"w":6.81,"y":251,"b":210},{"w":6.83,"y":246,"b":210},{"w":6.86,"y":242,"b":210},{"w":6.92,"y":235,"b":210},{"w":6.94,"y":232,"b":210},{"w":7.24,"y":232,"b":210},{"w":7.28,"y":231,"b":210},{"w":7.4,"y":231,"b":210},{"w":7.43,"y":230,"b":210},{"w":7.46,"y":231,"b":210},{"w":7.55,"y":215,"b":210},{"w":7.6,"y":211.5,"b":210},{"w":7.67,"y":211,"b":210},
  {"w":6.33,"y":143,"b":140},{"w":6.44,"y":154,"b":140},{"w":6.47,"y":158,"b":140},{"w":6.51,"y":170,"b":140},{"w":6.545,"y":180,"b":140},{"w":6.57,"y":158,"b":140},{"w":6.62,"y":173,"b":140},{"w":6.72,"y":156,"b":140},{"w":6.75,"y":156,"b":140},{"w":6.83,"y":152,"b":140},{"w":6.91,"y":158,"b":140},{"w":6.95,"y":160,"b":140},{"w":6.99,"y":158,"b":140},{"w":7.05,"y":143,"b":140},{"w":7.1,"y":165,"b":140},{"w":7.13,"y":162,"b":140},{"w":7.17,"y":158,"b":140},{"w":7.2,"y":143,"b":140},{"w":7.29,"y":142,"b":140},
  {"w":6.44,"y":82,"b":70},{"w":6.46,"y":86,"b":70},{"w":6.48,"y":96,"b":70},{"w":6.5,"y":88,"b":70},{"w":6.52,"y":85,"b":70},{"w":6.81,"y":91,"b":70},{"w":6.85,"y":86,"b":70},{"w":6.9,"y":72,"b":70},
  {"w":6.505,"y":4,"b":0},{"w":6.51,"y":10,"b":0}
 ],
 "labB": [{"s":"12+","b":420},{"s":"13+","b":350},{"s":"14+","b":280},{"s":"15+","b":210},{"s":"16+","b":140},{"s":"17+","b":70},{"s":"18+","b":0}],
 "envC": [
  {"g":"20","w":6.19,"y":176,"b":175},{"g":"20","w":6.23,"y":175,"b":175},{"g":"20","w":6.3,"y":176,"b":175},{"g":"20","w":6.4,"y":178,"b":175},{"g":"20","w":6.44,"y":179,"b":175},{"g":"20","w":6.48,"y":180,"b":175},{"g":"20","w":6.52,"y":181,"b":175},{"g":"20","w":6.55,"y":183,"b":175},{"g":"20","w":6.6,"y":184,"b":175},{"g":"20","w":6.64,"y":182,"b":175},{"g":"20","w":6.68,"y":179,"b":175},{"g":"20","w":6.7,"y":175,"b":175},
  {"g":"21","w":6.32,"y":141,"b":140},{"g":"21","w":6.36,"y":143,"b":140},{"g":"21","w":6.4,"y":144,"b":140},{"g":"21","w":6.44,"y":145,"b":140},{"g":"21","w":6.48,"y":146,"b":140},{"g":"21","w":6.52,"y":145,"b":140},{"g":"21","w":6.55,"y":146,"b":140},{"g":"21","w":6.58,"y":147,"b":140},{"g":"21","w":6.61,"y":149,"b":140},{"g":"21","w":6.63,"y":152,"b":140},{"g":"21","w":6.66,"y":154,"b":140},{"g":"21","w":6.69,"y":152,"b":140},{"g":"21","w":6.72,"y":150,"b":140},{"g":"21","w":6.75,"y":148,"b":140},{"g":"21","w":6.78,"y":147,"b":140},{"g":"21","w":6.81,"y":143,"b":140},{"g":"21","w":6.82,"y":140,"b":140},
  {"g":"22","w":6.27,"y":107,"b":105},{"g":"22","w":6.3,"y":107,"b":105},{"g":"22","w":6.4,"y":108,"b":105},{"g":"22","w":6.44,"y":110,"b":105},{"g":"22","w":6.47,"y":112,"b":105},{"g":"22","w":6.5,"y":113,"b":105},{"g":"22","w":6.53,"y":114,"b":105},{"g":"22","w":6.57,"y":114,"b":105},{"g":"22","w":6.6,"y":114,"b":105},{"g":"22","w":6.62,"y":113,"b":105},{"g":"22","w":6.65,"y":112,"b":105},{"g":"22","w":6.68,"y":117,"b":105},{"g":"22","w":6.7,"y":121,"b":105},{"g":"22","w":6.73,"y":122,"b":105},{"g":"22","w":6.75,"y":119,"b":105},{"g":"22","w":6.77,"y":115,"b":105},{"g":"22","w":6.8,"y":114,"b":105},{"g":"22","w":6.83,"y":112,"b":105},{"g":"22","w":6.86,"y":111,"b":105},{"g":"22","w":6.88,"y":109,"b":105},{"g":"22","w":6.92,"y":108,"b":105},{"g":"22","w":6.96,"y":107,"b":105},{"g":"22","w":7.0,"y":106,"b":105},{"g":"22","w":7.01,"y":105,"b":105},
  {"g":"23","w":6.24,"y":71,"b":70},{"g":"23","w":6.28,"y":72,"b":70},{"g":"23","w":6.32,"y":72.5,"b":70},{"g":"23","w":6.36,"y":73,"b":70},{"g":"23","w":6.4,"y":74,"b":70},{"g":"23","w":6.44,"y":76,"b":70},{"g":"23","w":6.47,"y":77,"b":70},{"g":"23","w":6.5,"y":78,"b":70},{"g":"23","w":6.54,"y":79,"b":70},{"g":"23","w":6.58,"y":79,"b":70},{"g":"23","w":6.62,"y":80,"b":70},{"g":"23","w":6.66,"y":80,"b":70},{"g":"23","w":6.7,"y":81,"b":70},{"g":"23","w":6.74,"y":81,"b":70},{"g":"23","w":6.78,"y":82,"b":70},{"g":"23","w":6.82,"y":82,"b":70},{"g":"23","w":6.85,"y":81,"b":70},{"g":"23","w":6.88,"y":78,"b":70},{"g":"23","w":6.91,"y":76,"b":70},{"g":"23","w":6.94,"y":73,"b":70},{"g":"23","w":6.97,"y":72,"b":70},{"g":"23","w":7.02,"y":71.5,"b":70},{"g":"23","w":7.2,"y":70,"b":70},
  {"g":"24","w":6.23,"y":36,"b":35},{"g":"24","w":6.3,"y":36,"b":35},{"g":"24","w":6.38,"y":37,"b":35},{"g":"24","w":6.44,"y":38,"b":35},{"g":"24","w":6.48,"y":39,"b":35},{"g":"24","w":6.52,"y":40,"b":35},{"g":"24","w":6.56,"y":41,"b":35},{"g":"24","w":6.6,"y":42,"b":35},{"g":"24","w":6.64,"y":43,"b":35},{"g":"24","w":6.68,"y":43,"b":35},{"g":"24","w":6.72,"y":44,"b":35},{"g":"24","w":6.76,"y":44,"b":35},{"g":"24","w":6.8,"y":45,"b":35},{"g":"24","w":6.83,"y":47,"b":35},{"g":"24","w":6.86,"y":49,"b":35},{"g":"24","w":6.89,"y":51,"b":35},{"g":"24","w":6.92,"y":50,"b":35},{"g":"24","w":6.94,"y":47,"b":35},{"g":"24","w":6.97,"y":43,"b":35},{"g":"24","w":7.0,"y":39,"b":35},{"g":"24","w":7.03,"y":37,"b":35},{"g":"24","w":7.14,"y":36,"b":35},{"g":"24","w":7.2,"y":35,"b":35},
  {"g":"25","w":6.28,"y":0.5,"b":0},{"g":"25","w":6.34,"y":1,"b":0},{"g":"25","w":6.4,"y":2,"b":0},{"g":"25","w":6.45,"y":3,"b":0},{"g":"25","w":6.5,"y":3,"b":0},{"g":"25","w":6.55,"y":4,"b":0},{"g":"25","w":6.6,"y":5,"b":0},{"g":"25","w":6.64,"y":5,"b":0},{"g":"25","w":6.68,"y":5,"b":0},{"g":"25","w":6.72,"y":5,"b":0},{"g":"25","w":6.76,"y":4,"b":0},{"g":"25","w":6.8,"y":5,"b":0},{"g":"25","w":6.83,"y":3,"b":0},{"g":"25","w":6.86,"y":2,"b":0},{"g":"25","w":6.88,"y":6,"b":0},{"g":"25","w":6.92,"y":7,"b":0},{"g":"25","w":6.96,"y":6,"b":0},{"g":"25","w":7.0,"y":4,"b":0},{"g":"25","w":7.04,"y":3,"b":0},{"g":"25","w":7.08,"y":2,"b":0},{"g":"25","w":7.14,"y":1,"b":0},{"g":"25","w":7.22,"y":0.5,"b":0},{"g":"25","w":7.26,"y":0,"b":0}
 ],
 "spkC": [
  {"w":6.325,"y":216,"b":210},{"w":6.525,"y":230,"b":210},{"w":6.545,"y":224,"b":210},{"w":6.565,"y":223,"b":210},{"w":6.59,"y":224,"b":210},{"w":6.615,"y":219,"b":210},
  {"w":6.19,"y":177,"b":175},{"w":6.21,"y":177,"b":175},{"w":6.29,"y":177,"b":175},{"w":6.32,"y":177.5,"b":175},{"w":6.36,"y":178,"b":175},{"w":6.41,"y":187,"b":175},{"w":6.43,"y":181,"b":175},{"w":6.46,"y":180,"b":175},{"w":6.48,"y":183,"b":175},{"w":6.5,"y":186,"b":175},{"w":6.565,"y":201,"b":175},{"w":6.575,"y":199,"b":175},{"w":6.585,"y":195,"b":175},{"w":6.6,"y":185,"b":175},{"w":6.625,"y":189,"b":175},{"w":6.645,"y":193,"b":175},{"w":6.665,"y":193,"b":175},{"w":6.68,"y":189,"b":175},{"w":6.7,"y":181,"b":175},{"w":6.76,"y":177,"b":175},{"w":6.8,"y":177,"b":175},{"w":6.88,"y":177,"b":175},
  {"w":6.14,"y":141,"b":140},{"w":6.17,"y":141,"b":140},{"w":6.2,"y":141.5,"b":140},{"w":6.23,"y":141,"b":140},{"w":6.26,"y":141,"b":140},{"w":6.29,"y":141.5,"b":140},{"w":6.43,"y":148,"b":140},{"w":6.49,"y":154,"b":140},{"w":6.51,"y":150,"b":140},{"w":6.55,"y":150,"b":140},{"w":6.57,"y":152,"b":140},{"w":6.59,"y":151,"b":140},{"w":6.64,"y":170,"b":140},{"w":6.655,"y":165,"b":140},{"w":6.67,"y":162,"b":140},{"w":6.69,"y":156,"b":140},{"w":6.72,"y":160,"b":140},{"w":6.75,"y":156,"b":140},{"w":6.77,"y":152,"b":140},{"w":6.79,"y":155,"b":140},{"w":6.86,"y":142,"b":140},{"w":6.89,"y":142,"b":140},{"w":6.93,"y":142,"b":140},{"w":6.96,"y":142,"b":140},{"w":7.12,"y":141,"b":140},{"w":7.73,"y":141,"b":140},{"w":7.89,"y":141,"b":140},
  {"w":6.03,"y":106,"b":105},{"w":6.06,"y":106,"b":105},{"w":6.09,"y":106,"b":105},{"w":6.16,"y":106,"b":105},{"w":6.2,"y":106,"b":105},{"w":6.27,"y":111.5,"b":105},{"w":6.47,"y":115,"b":105},{"w":6.5,"y":116,"b":105},{"w":6.53,"y":113,"b":105},{"w":6.61,"y":123,"b":105},{"w":6.65,"y":117,"b":105},{"w":6.7,"y":127,"b":105},{"w":6.715,"y":134,"b":105},{"w":6.73,"y":124,"b":105},{"w":6.76,"y":121,"b":105},{"w":6.835,"y":126,"b":105},{"w":6.87,"y":115,"b":105},{"w":7.04,"y":107,"b":105},{"w":7.07,"y":106,"b":105},{"w":7.1,"y":106,"b":105},{"w":7.15,"y":106,"b":105},{"w":7.2,"y":106,"b":105},{"w":7.26,"y":106,"b":105},{"w":7.3,"y":106,"b":105},{"w":7.38,"y":106,"b":105},{"w":7.41,"y":106,"b":105},{"w":7.87,"y":106,"b":105},{"w":7.9,"y":106,"b":105},{"w":7.94,"y":106,"b":105},
  {"w":6.07,"y":71,"b":70},{"w":6.12,"y":71,"b":70},{"w":6.17,"y":71,"b":70},{"w":6.2,"y":71,"b":70},{"w":6.34,"y":77.5,"b":70},{"w":6.46,"y":82,"b":70},{"w":6.49,"y":79,"b":70},{"w":6.54,"y":80.5,"b":70},{"w":6.58,"y":81,"b":70},{"w":6.62,"y":83,"b":70},{"w":6.645,"y":85,"b":70},{"w":6.67,"y":90,"b":70},{"w":6.7,"y":84,"b":70},{"w":6.73,"y":85,"b":70},{"w":6.765,"y":94,"b":70},{"w":6.79,"y":88,"b":70},{"w":6.805,"y":98,"b":70},{"w":6.84,"y":86,"b":70},{"w":6.885,"y":91,"b":70},{"w":7.23,"y":71,"b":70},{"w":7.3,"y":71,"b":70},{"w":7.35,"y":71,"b":70},{"w":7.5,"y":71,"b":70},{"w":7.66,"y":71,"b":70},{"w":7.69,"y":71,"b":70},{"w":7.74,"y":71,"b":70},{"w":7.86,"y":71,"b":70},{"w":7.9,"y":71,"b":70},{"w":7.96,"y":71,"b":70},{"w":7.99,"y":71,"b":70},
  {"w":6.12,"y":36,"b":35},{"w":6.43,"y":42,"b":35},{"w":6.51,"y":41,"b":35},{"w":6.55,"y":52,"b":35},{"w":6.6,"y":46,"b":35},{"w":6.62,"y":47,"b":35},{"w":6.66,"y":48,"b":35},{"w":6.69,"y":46,"b":35},{"w":6.735,"y":54,"b":35},{"w":6.78,"y":46,"b":35},{"w":6.82,"y":47,"b":35},{"w":6.85,"y":58.5,"b":35},{"w":6.875,"y":53,"b":35},{"w":6.905,"y":59,"b":35},{"w":6.93,"y":52,"b":35},{"w":7.14,"y":39,"b":35},{"w":7.3,"y":36,"b":35},{"w":7.36,"y":36,"b":35},{"w":7.42,"y":36,"b":35},{"w":7.48,"y":36,"b":35},{"w":7.56,"y":36,"b":35},{"w":7.62,"y":36,"b":35},{"w":7.7,"y":36,"b":35},{"w":7.78,"y":36,"b":35},{"w":7.84,"y":36,"b":35},{"w":7.9,"y":36,"b":35},{"w":7.96,"y":36,"b":35},
  {"w":6.37,"y":4,"b":0},{"w":6.43,"y":5,"b":0},{"w":6.47,"y":6,"b":0},{"w":6.53,"y":7,"b":0},{"w":6.59,"y":8,"b":0},{"w":6.625,"y":16,"b":0},{"w":6.66,"y":11,"b":0},{"w":6.69,"y":18,"b":0},{"w":6.71,"y":14,"b":0},{"w":6.73,"y":10,"b":0},{"w":6.76,"y":9,"b":0},{"w":6.81,"y":9,"b":0},{"w":6.83,"y":12,"b":0},{"w":6.9,"y":13,"b":0},{"w":6.94,"y":21,"b":0},{"w":6.97,"y":9,"b":0},{"w":7.01,"y":18,"b":0},{"w":7.06,"y":6,"b":0},{"w":7.12,"y":3,"b":0},{"w":7.3,"y":1,"b":0},{"w":7.35,"y":1,"b":0},{"w":7.4,"y":1,"b":0},{"w":7.46,"y":1,"b":0},{"w":7.5,"y":1,"b":0},{"w":7.56,"y":1,"b":0},{"w":7.64,"y":1,"b":0},{"w":7.7,"y":1,"b":0},{"w":7.76,"y":1,"b":0},{"w":7.82,"y":1,"b":0},{"w":7.88,"y":1,"b":0},{"w":7.94,"y":1,"b":0},{"w":7.98,"y":1,"b":0}
 ],
 "labC": [{"s":"19+","b":210},{"s":"20+","b":175},{"s":"21+","b":140},{"s":"22+","b":105},{"s":"23+","b":70},{"s":"24+","b":35},{"s":"25+","b":0}]
},
"bounds": "flush",
"spacing": 144,
"vconcat": [
 {
  "width": 588, "height": 373,
  "resolve": {"axis": {"x": "independent", "y": "independent"}},
  "layer": [
   {"data": {"name": "curves"},
    "mark": {"type": "line", "interpolate": "monotone", "strokeWidth": 1.4, "color": "#e3132f", "clip": true},
    "encoding": {
     "x": {"field": "t", "type": "quantitative", "scale": {"type": "log", "domain": [1, 1500], "nice": false},
      "axis": {"orient": "bottom", "values": [1,2,3,4,5,6,7,8,9,10,20,30,40,50,60,70,80,90,100,200,300,400,500,600,700,800,900,1000], "format": "d", "tickSize": -4.5, "labelPadding": 12, "labelExpr": "(datum.value==1||datum.value==10||datum.value==100||datum.value==1000)?datum.label:''", "title": "Electron Temperature (eV)", "titlePadding": 10}},
     "y": {"field": "p", "type": "quantitative", "scale": {"domain": [0, 1], "nice": false, "zero": false},
      "axis": {"orient": "left", "values": [0,0.2,0.4,0.6,0.8,1], "tickSize": -7, "labelPadding": 13, "labelExpr": "datum.value==0?'0':format(datum.value,'.1f')", "title": "Ionic population", "titlePadding": 20}},
     "detail": {"field": "i", "type": "nominal"}
    }},
   {"data": {"values": [{"t": 1, "p": 0}]},
    "mark": {"type": "point", "opacity": 0},
    "encoding": {
     "x": {"field": "t", "type": "quantitative", "scale": {"type": "log", "domain": [1, 1500], "nice": false},
      "axis": {"orient": "bottom", "values": [1,10,100,1000], "tickSize": -8, "labels": false, "title": null}},
     "y": {"field": "p", "type": "quantitative", "scale": {"domain": [0, 1], "nice": false, "zero": false},
      "axis": {"orient": "right", "values": [0,0.2,0.4,0.6,0.8,1], "tickSize": -7, "labels": false, "title": null}}
    }},
   {"data": {"values": [{"t": 1, "p": 0}]},
    "mark": {"type": "point", "opacity": 0},
    "encoding": {
     "x": {"field": "t", "type": "quantitative", "scale": {"type": "log", "domain": [1, 1500], "nice": false},
      "axis": {"orient": "top", "values": [2,3,4,5,6,7,8,9,20,30,40,50,60,70,80,90,200,300,400,500,600,700,800,900], "tickSize": -4.5, "labels": false, "title": null}},
     "y": {"field": "p", "type": "quantitative", "scale": {"domain": [0, 1], "nice": false, "zero": false}, "axis": null}
    }},
   {"data": {"values": [{"t": 1, "p": 0}]},
    "mark": {"type": "point", "opacity": 0},
    "encoding": {
     "x": {"field": "t", "type": "quantitative", "scale": {"type": "log", "domain": [1, 1500], "nice": false},
      "axis": {"orient": "top", "values": [1,10,100,1000], "tickSize": -8, "labels": false, "title": null}},
     "y": {"field": "p", "type": "quantitative", "scale": {"domain": [0, 1], "nice": false, "zero": false}, "axis": null}
    }},
   {"data": {"values": [{}]},
    "mark": {"type": "text", "align": "left", "baseline": "alphabetic", "fontSize": 23, "color": "#231f20"},
    "encoding": {
     "x": {"datum": 1.105, "type": "quantitative", "scale": {"type": "log", "domain": [1, 1500], "nice": false}, "axis": null},
     "y": {"datum": 0.898, "type": "quantitative", "scale": {"domain": [0, 1], "nice": false, "zero": false}, "axis": null},
     "text": {"value": "(a)"}
    }},
   {"data": {"values": [{}]},
    "mark": {"type": "text", "align": "right", "baseline": "alphabetic", "fontSize": 23, "color": "#231f20"},
    "encoding": {
     "x": {"datum": 1101, "type": "quantitative", "scale": {"type": "log", "domain": [1, 1500], "nice": false}, "axis": null},
     "y": {"datum": 0.9, "type": "quantitative", "scale": {"domain": [0, 1], "nice": false, "zero": false}, "axis": null},
     "text": {"value": "Gd"}
    }}
  ]
 },
 {
  "bounds": "flush",
  "spacing": 87,
  "hconcat": [
   {
    "width": 249, "height": 374,
    "resolve": {"axis": {"x": "independent", "y": "independent"}},
    "layer": [
     {"data": {"name": "envB"},
      "mark": {"type": "area", "interpolate": "step-after", "color": "#e3132f"},
      "encoding": {
       "x": {"field": "w", "type": "quantitative", "scale": {"domain": [6, 8], "nice": false, "zero": false},
        "axis": {"orient": "bottom", "values": [6,6.5,7,7.5,8], "format": ".1f", "tickSize": -5, "labelPadding": 15, "title": "Wavelength (nm)", "titlePadding": 10}},
       "y": {"field": "y", "type": "quantitative", "scale": {"domain": [-3.6, 491.7], "nice": false, "zero": false},
        "axis": {"orient": "left", "values": [0,70,140,210,280,350,420,490], "tickSize": -5, "labelPadding": 10, "labelExpr": "datum.value==0?'0':'70'", "title": "gf", "titlePadding": 14}},
       "y2": {"field": "b"},
       "detail": {"field": "g", "type": "nominal"}
      }},
     {"data": {"name": "spkB"},
      "mark": {"type": "rule", "color": "#e3132f", "strokeWidth": 1.6},
      "encoding": {
       "x": {"field": "w", "type": "quantitative", "scale": {"domain": [6, 8], "nice": false, "zero": false},
        "axis": {"orient": "top", "values": [6.5,7,7.5], "tickSize": -5, "labels": false, "title": null}},
       "y": {"field": "y", "type": "quantitative", "scale": {"domain": [-3.6, 491.7], "nice": false, "zero": false},
        "axis": {"orient": "right", "values": [0,70,140,210,280,350,420,490], "tickSize": -5, "labels": false, "title": null}},
       "y2": {"field": "b"}
      }},
     {"data": {"name": "labB"},
      "mark": {"type": "text", "align": "left", "baseline": "alphabetic", "fontSize": 24, "dy": -23, "color": "#231f20", "text": "Gd"},
      "encoding": {
       "x": {"datum": 7.406, "type": "quantitative", "scale": {"domain": [6, 8], "nice": false, "zero": false}, "axis": null},
       "y": {"field": "b", "type": "quantitative", "scale": {"domain": [-3.6, 491.7], "nice": false, "zero": false}, "axis": null}
      }},
     {"data": {"name": "labB"},
      "mark": {"type": "text", "align": "left", "baseline": "alphabetic", "fontSize": 17, "dx": 33, "dy": -33, "color": "#231f20"},
      "encoding": {
       "x": {"datum": 7.406, "type": "quantitative", "scale": {"domain": [6, 8], "nice": false, "zero": false}, "axis": null},
       "y": {"field": "b", "type": "quantitative", "scale": {"domain": [-3.6, 491.7], "nice": false, "zero": false}, "axis": null},
       "text": {"field": "s"}
      }},
     {"data": {"values": [{}]},
      "mark": {"type": "text", "align": "left", "baseline": "alphabetic", "fontSize": 23, "color": "#231f20"},
      "encoding": {
       "x": {"datum": 6.032, "type": "quantitative", "scale": {"domain": [6, 8], "nice": false, "zero": false}, "axis": null},
       "y": {"datum": 455.6, "type": "quantitative", "scale": {"domain": [-3.6, 491.7], "nice": false, "zero": false}, "axis": null},
       "text": {"value": "(b)"}
      }}
    ]
   },
   {
    "width": 249, "height": 374,
    "resolve": {"axis": {"x": "independent", "y": "independent"}},
    "layer": [
     {"data": {"name": "envC"},
      "mark": {"type": "area", "interpolate": "step-after", "color": "#e3132f"},
      "encoding": {
       "x": {"field": "w", "type": "quantitative", "scale": {"domain": [6, 8], "nice": false, "zero": false},
        "axis": {"orient": "bottom", "values": [6,6.5,7,7.5,8], "format": ".1f", "tickSize": -5, "labelPadding": 15, "title": "Wavelength (nm)", "titlePadding": 10}},
       "y": {"field": "y", "type": "quantitative", "scale": {"domain": [-4.7, 245.9], "nice": false, "zero": false},
        "axis": {"orient": "left", "values": [0,35,70,105,140,175,210,245], "tickSize": -5, "labelPadding": 10, "labelExpr": "datum.value==0?'0':'35'", "title": "gf", "titlePadding": 14}},
       "y2": {"field": "b"},
       "detail": {"field": "g", "type": "nominal"}
      }},
     {"data": {"name": "spkC"},
      "mark": {"type": "rule", "color": "#e3132f", "strokeWidth": 1.6},
      "encoding": {
       "x": {"field": "w", "type": "quantitative", "scale": {"domain": [6, 8], "nice": false, "zero": false},
        "axis": {"orient": "top", "values": [6.5,7,7.5], "tickSize": -5, "labels": false, "title": null}},
       "y": {"field": "y", "type": "quantitative", "scale": {"domain": [-4.7, 245.9], "nice": false, "zero": false},
        "axis": {"orient": "right", "values": [0,35,70,105,140,175,210,245], "tickSize": -5, "labels": false, "title": null}},
       "y2": {"field": "b"}
      }},
     {"data": {"name": "labC"},
      "mark": {"type": "text", "align": "left", "baseline": "alphabetic", "fontSize": 24, "dy": -21, "color": "#231f20", "text": "Gd"},
      "encoding": {
       "x": {"datum": 7.368, "type": "quantitative", "scale": {"domain": [6, 8], "nice": false, "zero": false}, "axis": null},
       "y": {"field": "b", "type": "quantitative", "scale": {"domain": [-4.7, 245.9], "nice": false, "zero": false}, "axis": null}
      }},
     {"data": {"name": "labC"},
      "mark": {"type": "text", "align": "left", "baseline": "alphabetic", "fontSize": 17, "dx": 33, "dy": -31, "color": "#231f20"},
      "encoding": {
       "x": {"datum": 7.368, "type": "quantitative", "scale": {"domain": [6, 8], "nice": false, "zero": false}, "axis": null},
       "y": {"field": "b", "type": "quantitative", "scale": {"domain": [-4.7, 245.9], "nice": false, "zero": false}, "axis": null},
       "text": {"field": "s"}
      }},
     {"data": {"values": [{}]},
      "mark": {"type": "text", "align": "left", "baseline": "alphabetic", "fontSize": 23, "color": "#231f20"},
      "encoding": {
       "x": {"datum": 6.038, "type": "quantitative", "scale": {"domain": [6, 8], "nice": false, "zero": false}, "axis": null},
       "y": {"datum": 225.1, "type": "quantitative", "scale": {"domain": [-4.7, 245.9], "nice": false, "zero": false}, "axis": null},
       "text": {"value": "(c)"}
      }}
    ]
   }
  ]
 }
]
}
